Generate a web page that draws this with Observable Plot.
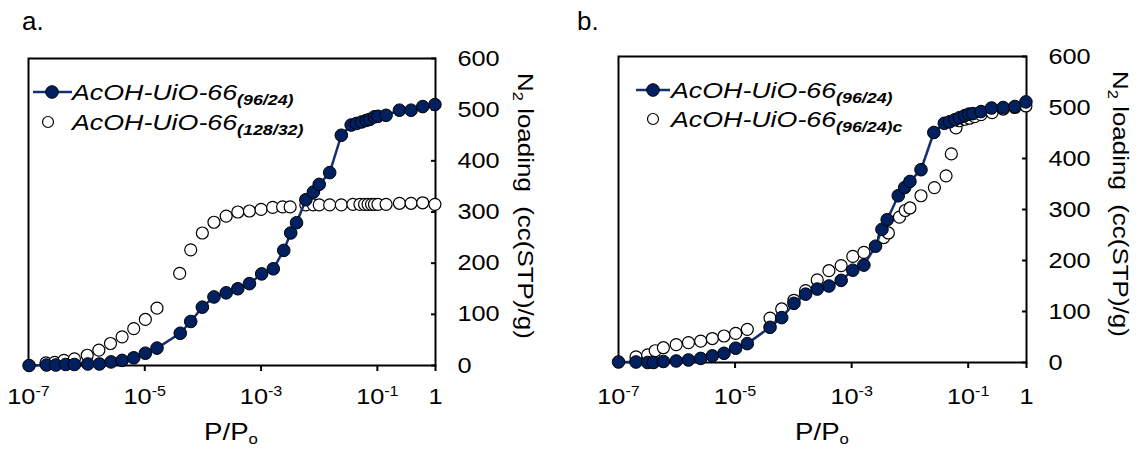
<!DOCTYPE html>
<html><head><meta charset="utf-8">
<script src="https://cdn.jsdelivr.net/npm/d3@7"></script>
<script src="https://cdn.jsdelivr.net/npm/@observablehq/plot@0.6"></script>
<style>
body{margin:0;background:#fff;}
#wrap{position:relative;width:1141px;height:449px;overflow:hidden;background:#fff;}
.panel{position:absolute;top:0;}
svg text{white-space:pre;}
</style></head><body>
<div id="wrap"><div id="pa" class="panel" style="left:0"></div><div id="pb" class="panel" style="left:560px"></div></div>
<script>
// ---------- data (x stored as log10(P/Po)) ----------
const logP_a96 = [-6.99,-6.69,-6.53,-6.36,-6.21,-5.98,-5.78,-5.58,-5.39,-5.19,-4.99,-4.79,-4.39,-4.21,-4.01,-3.81,-3.60,-3.40,-3.20,-2.99,-2.79,-2.61,-2.49,-2.39,-2.23,-2.10,-2.00,-1.82,-1.62,-1.45,-1.36,-1.27,-1.19,-1.13,-1.05,-0.99,-0.85,-0.62,-0.42,-0.22,-0.01];
const n2_a96   = [0,1,1,2,2,3,3,7,10,15,24,34,63,86,114,134,142,150,160,179,189,225,259,279,324,339,354,377,450,470,473,476,479,481,486,487,489,499,499,506,510];
const logP_a128 = [-6.70,-6.55,-6.39,-6.21,-5.99,-5.79,-5.59,-5.39,-5.19,-4.99,-4.79,-4.40,-4.21,-4.01,-3.81,-3.60,-3.40,-3.20,-3.00,-2.80,-2.63,-2.50,-2.23,-2.10,-2.00,-1.82,-1.62,-1.42,-1.30,-1.22,-1.16,-1.10,-1.05,-0.99,-0.85,-0.62,-0.42,-0.22,-0.01];
const n2_a128   = [5,6,10,13,20,30,43,56,72,90,112,180,226,259,280,292,300,302,305,309,310,310,314,314,314,314,314,315,315,315,315,315,315,315,315,317,317,318,315];
const logP_b96 = [-7.00,-6.70,-6.50,-6.40,-6.23,-6.01,-5.80,-5.59,-5.39,-5.19,-4.99,-4.79,-4.40,-4.20,-3.99,-3.79,-3.59,-3.39,-3.18,-2.98,-2.79,-2.59,-2.48,-2.39,-2.20,-2.09,-2.00,-1.81,-1.59,-1.41,-1.32,-1.23,-1.15,-1.06,-0.99,-0.92,-0.78,-0.60,-0.40,-0.20,-0.01];
const n2_b96   = [1,1,0,0,2,3,5,8,13,18,28,37,69,88,116,134,144,150,161,181,191,228,261,280,327,343,355,378,451,469,472,476,480,484,487,488,492,499,500,502,511];
const logP_b96c = [-6.70,-6.50,-6.37,-6.23,-6.01,-5.80,-5.59,-5.39,-5.19,-4.99,-4.79,-4.40,-4.20,-3.99,-3.79,-3.59,-3.39,-3.18,-2.98,-2.79,-2.45,-2.37,-2.18,-2.08,-2.00,-1.81,-1.58,-1.38,-1.29,-1.21,-1.15,-1.06,-0.98,-0.89,-0.78,-0.59,-0.40,-0.20,-0.01];
const n2_b96c   = [11,15,23,29,35,39,42,47,52,57,65,87,105,122,141,162,180,190,208,216,245,254,285,298,303,327,343,366,409,460,474,477,479,482,486,490,497,500,503];

const xTicks = [1e-7, 1e-5, 1e-3, 1e-1, 1];
const yTicks = [0, 100, 200, 300, 400, 500, 600];
const legendA = [{main: "AcOH-UiO-66", sub: "(96/24)"}, {main: "AcOH-UiO-66", sub: "(128/32)"}];
const legendB = [{main: "AcOH-UiO-66", sub: "(96/24)"}, {main: "AcOH-UiO-66", sub: "(96/24)c"}];
const panelTitles = ["a.", "b."];

const NAVY = "#002060", LINE = "#14306e";
const FONT = "'Liberation Sans', Arial, sans-serif";
const toRows = (lp, v) => lp.map((e, i) => ({p: Math.pow(10, e), v: v[i]}));

function makePanel(filled, open, m) {
  const svg = Plot.plot({
    width: m.width, height: 449,
    marginLeft: m.left, marginRight: m.right, marginTop: m.top, marginBottom: m.bottom,
    style: {fontFamily: FONT, fontSize: "22px", color: "black", background: "transparent", overflow: "visible"},
    x: {type: "log", domain: [1e-7, 1]},
    y: {domain: [0, 600]},
    marks: [
      Plot.axisX({ticks: xTicks, tickSize: 6, tickPadding: m.xpad, strokeWidth: 2, label: null,
        tickFormat: d => d === 1 ? "1" : "10^" + Math.round(Math.log10(d))}),
      Plot.axisY({anchor: "right", ticks: yTicks, tickSize: -5, tickPadding: 27, strokeWidth: 2, label: null, tickFormat: d => String(d)}),
      Plot.frame({stroke: "black", strokeWidth: 2}),
      Plot.dot(open, {x: "p", y: "v", r: 6, fill: "white", stroke: "black", strokeWidth: 1.2}),
      Plot.line(filled, {x: "p", y: "v", stroke: LINE, strokeWidth: 2.5}),
      Plot.dot(filled, {x: "p", y: "v", r: 6.3, fill: NAVY, stroke: "black", strokeWidth: 1})
    ]
  });
  const S = d3.select(svg);
  // superscript exponents in x tick labels
  S.selectAll('g[aria-label="x-axis tick label"] text').each(function() {
    const s = this.textContent;
    if (s.startsWith("10^")) {
      const t = d3.select(this); t.text("");
      t.append("tspan").text("10");
      t.append("tspan").attr("dy", -8).attr("font-size", "14px").text(s.slice(3));
    }
  });
  // horizontal text stretch like the original
  S.selectAll("text").each(function() {
    const tr = this.getAttribute("transform") || "";
    this.setAttribute("transform", tr + " scale(1.15,1)");
  });
  return svg;
}

function addText(svg, o) {
  const S = d3.select(svg);
  const t = S.append("text")
    .attr("transform", `translate(${o.x},${o.y})${o.rot ? ` rotate(${o.rot})` : ""} scale(${o.k || 1},1)`)
    .attr("font-family", FONT).attr("font-size", o.size).attr("fill", "black")
    .attr("text-anchor", o.anchor || "start");
  if (o.italic) t.attr("font-style", "italic");
  o.parts.forEach(p => {
    const ts = t.append("tspan").text(p.t);
    if (p.dy) ts.attr("dy", p.dy);
    if (p.size) ts.attr("font-size", p.size);
    if (p.bold) ts.attr("font-weight", "bold");
  });
}

function addLegend(svg, items, L) {
  const g = d3.select(svg).append("g");
  g.append("line").attr("x1", L.lx1).attr("x2", L.lx2).attr("y1", L.y1).attr("y2", L.y1)
    .attr("stroke", LINE).attr("stroke-width", 2.5);
  g.append("circle").attr("cx", L.mx).attr("cy", L.y1).attr("r", 6.3).attr("fill", NAVY).attr("stroke", "black");
  g.append("circle").attr("cx", L.ox).attr("cy", L.y2).attr("r", 5.5).attr("fill", "white").attr("stroke", "black").attr("stroke-width", 1.2);
  [L.y1, L.y2].forEach((y, i) => addText(svg, {x: L.tx, y: y + 7.5, size: 22.5, k: 1.19, italic: true,
    parts: [{t: items[i].main}, {t: items[i].sub, dy: 5, size: 15, bold: true}]}));
}

function yTitle(svg, x, y) {
  addText(svg, {x, y, rot: 90, size: 22, k: 1.18, parts: [
    {t: "N"}, {t: "2", dy: 5, size: 14}, {t: " loading  (cc(STP)/g)", dy: -5}]});
}
function xTitle(svg, x) {
  addText(svg, {x, y: 440, size: 23, k: 1.2, anchor: "middle", parts: [{t: "P/P"}, {t: "o", dy: 4, size: 14}]});
}

const svgA = makePanel(toRows(logP_a96, n2_a96), toRows(logP_a128, n2_a128),
  {width: 560, left: 28, right: 125, top: 58, bottom: 84, xpad: 17});
addText(svgA, {x: 22, y: 30, size: 26, parts: [{t: panelTitles[0]}]});
addLegend(svgA, legendA, {lx1: 33, lx2: 72, mx: 52, ox: 48, y1: 92, y2: 122, tx: 72});
yTitle(svgA, 518, 73);
xTitle(svgA, 231);
document.getElementById("pa").appendChild(svgA);

const svgB = makePanel(toRows(logP_b96, n2_b96), toRows(logP_b96c, n2_b96c),
  {width: 581, left: 58, right: 115, top: 56, bottom: 87, xpad: 20});
addText(svgB, {x: 17, y: 30, size: 26, parts: [{t: panelTitles[1]}]});
addLegend(svgB, legendB, {lx1: 76, lx2: 110, mx: 93, ox: 93, y1: 90, y2: 119, tx: 111});
yTitle(svgB, 553, 71);
xTitle(svgB, 262);
document.getElementById("pb").appendChild(svgB);
</script>
</body></html>
